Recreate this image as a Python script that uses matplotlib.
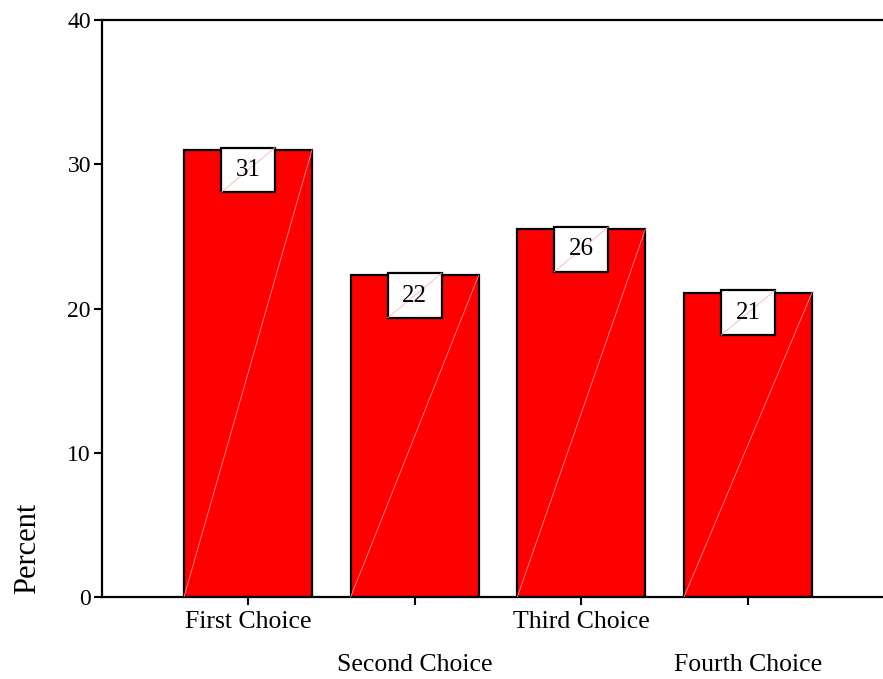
import numpy as np
import matplotlib.pyplot as plt
from matplotlib.patches import Rectangle

choices = ["First Choice", "Second Choice", "Third Choice", "Fourth Choice"]
percent = [31.0, 22.3, 25.5, 21.1]
yticks = [0, 10, 20, 30, 40]

plt.rcParams['font.family'] = ['Liberation Serif', 'DejaVu Serif']

fig = plt.figure(figsize=(8.83, 6.79), dpi=100)
ax = fig.add_axes([0.1155, 0.1208, 0.8845, 0.8497])

x = np.arange(len(choices))
bw = 0.768
bars = ax.bar(x, percent, width=bw, color='#ff0000', edgecolor='black',
              linewidth=1.6, zorder=2)

# faint diagonal seam across each filled bar
for b in bars:
    x0, w, h = b.get_x(), b.get_width(), b.get_height()
    ax.plot([x0, x0 + w], [0, h], color='#ff9090', lw=0.6, zorder=3)

# value boxes hanging from the top of each bar
box_w, box_h = 0.324, 3.1
for xi, v in zip(x, percent):
    top = v + 0.15
    ax.add_patch(Rectangle((xi - box_w / 2, top - box_h), box_w, box_h,
                           facecolor='white', edgecolor='black', lw=1.6, zorder=4))
    ax.plot([xi - box_w / 2, xi + box_w / 2], [top - box_h, top],
            color='#ffb0b0', lw=0.6, zorder=5)
    ax.text(xi, top - box_h / 2, f"{v:.0f}", ha='center', va='center',
            fontsize=18, zorder=6)

ax.set_xlim(-0.876, 3.81)
ax.set_ylim(0, 40)
ax.set_yticks(yticks)
ax.set_yticklabels([str(t) for t in yticks], fontsize=17)
ax.set_xticks(x)
ax.set_xticklabels(choices, fontsize=18.5)
for i, lbl in enumerate(ax.get_xticklabels()):
    if i % 2:
        lbl.set_y(-0.075)

ax.tick_params(axis='both', direction='out', length=6, width=1.5, pad=4)
ax.tick_params(axis='y', pad=2)
ax.spines['right'].set_visible(False)
for s in ['left', 'bottom', 'top']:
    ax.spines[s].set_linewidth(1.6)

ax.set_ylabel("Percent", fontsize=22)
ax.yaxis.set_label_coords(-0.077, 0.085)

fig.savefig("out.png", dpi=100)
